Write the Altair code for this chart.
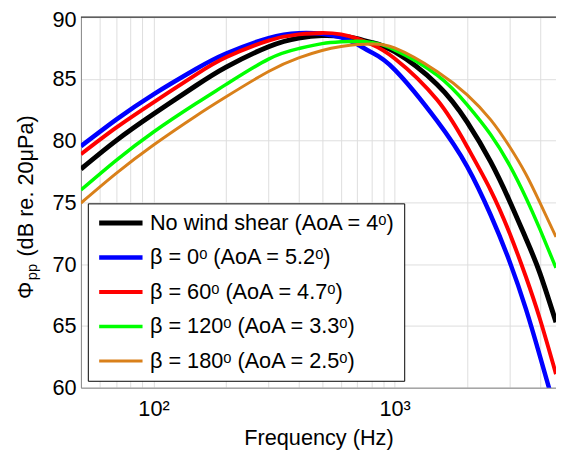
import altair as alt
import pandas as pd

freqs = [50, 70, 100, 150, 200, 300, 400, 500, 600, 700, 800, 1000, 1500, 2000, 2500, 3000, 3500, 4000, 4670]

# Phi_pp (dB re. 20 uPa) for each case
no_shear = [77.7, 80.0, 82.15, 84.45, 85.95, 87.6, 88.3, 88.5, 88.45, 88.25, 87.95, 87.2, 84.55, 81.5, 78.3, 75.1, 72.1, 69.3, 65.3]
beta0    = [79.55, 81.7, 83.75, 85.8, 87.05, 88.3, 88.7, 88.65, 88.35, 87.8, 87.15, 85.75, 81.6, 77.9, 74.0, 70.2, 66.4, 62.6, 58.0]
beta60   = [78.9, 81.05, 83.1, 85.35, 86.75, 88.1, 88.6, 88.72, 88.6, 88.25, 87.8, 86.65, 83.3, 79.5, 76.0, 72.5, 69.0, 65.6, 61.1]
beta120  = [76.0, 78.4, 80.7, 83.0, 84.55, 86.6, 87.45, 87.85, 88.0, 88.05, 87.95, 87.35, 85.3, 82.9, 80.5, 78.0, 75.4, 72.85, 69.7]
beta180  = [74.95, 77.35, 79.65, 82.0, 83.55, 85.6, 86.7, 87.3, 87.62, 87.78, 87.82, 87.5, 85.6, 83.7, 81.7, 79.5, 77.3, 75.0, 72.2]

series_names = [
    "No wind shear (AoA = 4ᵒ)",
    "β = 0ᵒ (AoA = 5.2ᵒ)",
    "β = 60ᵒ (AoA = 4.7ᵒ)",
    "β = 120ᵒ (AoA = 3.3ᵒ)",
    "β = 180ᵒ (AoA = 2.5ᵒ)",
]
series_values = [no_shear, beta0, beta60, beta120, beta180]
series_colors = ["#000000", "#0000FF", "#FF0000", "#00FF00", "#D9801A"]
series_widths = [5, 3, 3, 3, 3]

x_grid = [50, 60, 70, 80, 90, 100, 200, 300, 400, 500, 600, 700, 800, 900, 1000, 2000, 3000, 4000]
y_ticks = [60, 65, 70, 75, 80, 85, 90]

# y-axis title pieces: symbol, subscript, unit
y_title_symbol = "Φ"
y_title_sub = "pp"
y_title_unit = "(dB re. 20μPa)"

rows = []
for k, (name, vals) in enumerate(zip(series_names, series_values)):
    for f, v in zip(freqs, vals):
        rows.append({"freq": f, "phi": v, "case": name, "order": k})
df = pd.DataFrame(rows)
one = pd.DataFrame({"k": [0]})

FONT = "Liberation Sans"
W, H = 482, 376


def make_legend():
    return alt.Legend(
        title=None,
        orient="none",
        legendX=7,
        legendY=189,
        symbolType="stroke",
        symbolSize=1936,
        clipHeight=22,
        labelFontSize=22,
        labelFont=FONT,
        labelColor="black",
        labelOffset=5,
        rowPadding=13,
        padding=9,
        fillColor="white",
        strokeColor="black",
        labelLimit=400,
    )


lines = alt.Chart(df).mark_line(interpolate="natural", clip=True).encode(
    x=alt.X(
        "freq:Q",
        scale=alt.Scale(type="log", domain=[50, 4670], nice=False),
        axis=alt.Axis(
            values=x_grid,
            labelExpr="datum.value == 100 ? '10²' : (datum.value == 1000 ? '10³' : '')",
            labelOverlap=False,
            ticks=False,
            labelPadding=11,
            labelFontSize=22,
            title="Frequency (Hz)",
            titleFontSize=22,
            titleFontWeight="normal",
            titleY=58,
            titleBaseline="alphabetic",
            titleX=W / 2,
        ),
    ),
    y=alt.Y(
        "phi:Q",
        scale=alt.Scale(domain=[60, 90], nice=False),
        axis=alt.Axis(
            values=y_ticks,
            ticks=False,
            labelPadding=5,
            labelFontSize=22,
            labelOffset={"condition": {"test": "datum.value == 90", "value": 3}, "value": 0},
            title=None,
        ),
    ),
    color=alt.Color(
        "case:N",
        scale=alt.Scale(domain=series_names, range=series_colors),
        legend=make_legend(),
    ),
    strokeWidth=alt.StrokeWidth(
        "case:N",
        scale=alt.Scale(domain=series_names, range=series_widths),
        legend=make_legend(),
    ),
    detail="case:N",
    order="order:Q",
)

top_border = alt.Chart(one).mark_rule(color="black", strokeWidth=1).encode(
    x=alt.value(0), x2=alt.value(W), y=alt.value(0)
)

title_style = dict(angle=270, align="left", baseline="alphabetic", font=FONT, color="black")
t_sym = alt.Chart(one).mark_text(fontSize=22, **title_style).encode(
    x=alt.value(-49), y=alt.value(286), text=alt.value(y_title_symbol)
)
t_sub = alt.Chart(one).mark_text(fontSize=15, **title_style).encode(
    x=alt.value(-45), y=alt.value(267), text=alt.value(y_title_sub)
)
t_unit = alt.Chart(one).mark_text(fontSize=22, **title_style).encode(
    x=alt.value(-49), y=alt.value(243), text=alt.value(y_title_unit)
)

chart = alt.layer(lines, top_border, t_sym, t_sub, t_unit).properties(
    width=W,
    height=H,
    autosize=alt.AutoSizeParams(type="none"),
    padding={"left": 74, "top": 6, "right": 0, "bottom": 60},
).configure_view(
    stroke=None
).configure_axis(
    labelFont=FONT,
    titleFont=FONT,
    labelColor="black",
    titleColor="black",
    domainColor="black",
    domainWidth=1,
    grid=True,
    gridColor="#000000",
    gridOpacity=0.75,
    gridDash=[1, 3],
    gridWidth=1,
).configure(
    background="white"
)

chart.save("out.html", embed_options={"renderer": "svg", "actions": False})
